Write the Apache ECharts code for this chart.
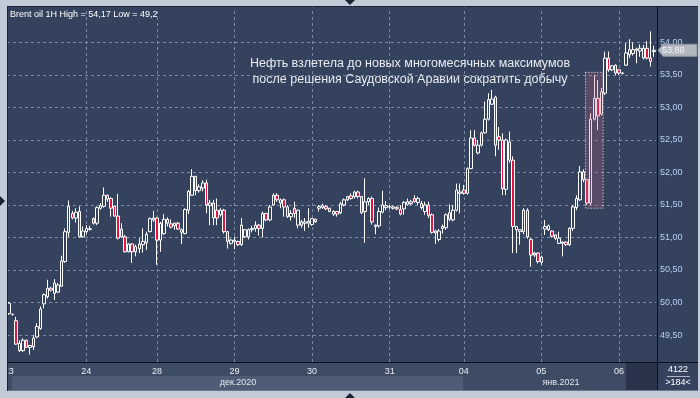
<!DOCTYPE html>
<html><head><meta charset="utf-8">
<script src="https://cdn.jsdelivr.net/npm/echarts@6/dist/echarts.min.js"></script>
<style>html,body{margin:0;padding:0;background:#c1cad7;}#c{width:700px;height:398px;}</style>
</head><body><div id="c"></div>
<script>
// ---- data ----
const dayLabels = ['23','24','28','29','30','31','04','05','06'];
const dayCandles = [22,20,22,22,22,21,22,22,11];
const monthLabels = ['дек.2020','янв.2021'];
const yTicks = [49.5,50,50.5,51,51.5,52,52.5,53,53.5,54];
const lastPrice = 53.88;
const titleText = 'Brent oil 1H High = 54,17 Low = 49,2';
const noteLines = ['Нефть взлетела до новых многомесячных максимумов','после решения Саудовской Аравии сократить добычу'];
const barsTotal = '4122';
const barsShown = '>184<';
const highlightFrom = 164, highlightTo = 168, highlightLow = 51.45, highlightHigh = 53.54;

const opens = [
49.83,49.82,49.72,49.26,49.26,49.42,49.31,49.32,49.47,49.60,
49.98,50.09,50.22,50.14,50.16,50.25,50.63,51.08,51.37,51.30,
51.40,51.01,51.09,51.125,51.29,51.22,51.45,51.48,51.65,51.60,
51.48,51.33,51.13,51.01,50.78,50.90,50.78,50.83,50.89,50.92,
51.09,51.27,51.30,50.96,51.06,51.28,51.21,51.18,51.22,51.08,
51.06,51.42,51.65,51.94,51.72,51.76,51.84,51.49,51.53,51.42,
51.35,51.42,51.09,50.91,50.94,50.94,50.89,51.01,51.01,51.12,
51.14,51.19,51.14,51.37,51.27,51.50,51.65,51.53,51.58,51.47,
51.32,51.45,51.19,51.19,51.22,51.22,51.20,51.28,51.45,51.46,
51.475,51.45,51.36,51.40,51.38,51.50,51.58,51.64,51.63,51.70,
51.63,51.40,51.55,51.60,51.17,51.18,51.39,51.46,51.47,51.45,
51.465,51.43,51.44,51.51,51.52,51.60,51.54,51.52,51.40,51.50,
51.35,51.07,50.97,51.14,51.15,51.38,51.27,51.42,51.68,51.73,
51.68,52.06,52.53,52.30,52.42,52.61,52.82,53.05,53.16,52.55,
52.50,51.74,52.47,52.19,51.12,51.09,51.09,51.42,50.97,50.73,
50.76,50.62,51.13,51.12,51.10,51.04,50.91,50.91,50.93,50.89,
51.14,51.46,51.58,52.01,51.89,51.53,52.82,53.14,52.90,53.22,
53.76,53.58,53.65,53.58,53.53,53.65,53.81,53.83,53.88,53.87,
53.76,53.91,53.76,53.86];
const highs = [
50.01,49.83,49.78,49.42,49.45,49.43,49.34,49.50,49.68,49.94,
50.14,50.35,50.24,50.36,50.30,50.72,51.14,51.57,51.41,51.45,
51.48,51.17,51.19,51.18,51.31,51.48,51.53,51.77,51.66,51.62,
51.49,51.67,51.22,51.04,50.91,50.91,50.89,50.99,51.14,51.09,
51.31,51.41,51.31,51.24,51.36,51.31,51.28,51.23,51.24,51.14,
51.45,51.73,52.05,51.95,51.82,51.88,51.89,51.58,51.58,51.60,
51.45,51.44,51.10,50.98,51.01,50.95,51.30,51.13,51.14,51.18,
51.25,51.21,51.40,51.38,51.50,51.68,51.68,51.60,51.60,51.50,
51.42,51.55,51.43,51.27,51.30,51.45,51.30,51.29,51.50,51.52,
51.50,51.46,51.42,51.41,51.55,51.60,51.64,51.68,51.72,51.72,
51.64,51.91,51.62,51.63,51.20,51.46,51.72,51.56,51.50,51.49,
51.48,51.50,51.56,51.60,51.58,51.65,51.63,51.56,51.55,51.55,
51.37,51.12,51.13,51.20,51.37,51.51,51.50,51.83,51.83,51.81,
52.08,52.65,52.65,52.50,52.63,53.09,53.22,53.27,53.18,52.70,
52.60,52.52,52.63,52.25,51.17,51.12,51.45,51.45,50.99,50.78,
50.77,50.72,51.27,51.20,51.11,51.05,51.09,50.94,50.94,51.16,
51.50,51.65,52.10,52.05,51.90,52.91,53.50,53.42,53.30,53.86,
53.86,53.65,53.66,53.58,53.54,53.99,54.05,54.00,53.92,53.97,
53.96,54.02,54.17,53.95];
const lows = [
49.81,49.80,49.35,49.24,49.24,49.30,49.20,49.27,49.45,49.58,
49.91,50.06,50.17,50.04,50.15,50.24,50.61,51.01,51.28,51.23,
51.00,51.00,51.06,51.105,51.20,51.19,51.43,51.46,51.55,51.32,
51.32,50.97,51.00,50.77,50.77,50.61,50.71,50.76,50.77,50.81,
51.08,51.24,50.58,50.78,51.04,51.17,51.14,51.12,51.12,50.90,
51.05,51.36,51.64,51.65,51.69,51.71,51.37,51.19,51.19,51.19,
51.32,51.06,50.83,50.89,50.82,50.87,50.87,50.99,50.97,51.08,
51.09,51.03,51.00,51.25,51.25,51.49,51.55,51.45,51.32,51.30,
51.26,51.30,51.14,51.15,51.10,51.15,51.18,51.23,51.40,51.44,
51.42,51.39,51.33,51.32,51.36,51.48,51.56,51.58,51.60,51.60,
51.36,50.92,51.50,51.20,51.05,51.15,51.37,51.42,51.44,51.43,
51.42,51.34,51.35,51.49,51.50,51.54,51.50,51.43,51.35,51.30,
51.06,50.90,50.94,51.06,51.12,51.25,51.25,51.40,51.37,51.66,
51.66,52.05,52.40,52.28,52.40,52.60,52.80,53.04,52.25,52.35,
51.65,51.65,52.15,50.76,50.76,50.89,51.05,50.98,50.55,50.70,
50.60,50.58,51.04,51.10,51.00,50.96,50.90,50.71,50.87,50.87,
51.10,51.42,51.56,51.85,51.50,51.50,52.80,52.65,52.88,53.19,
53.55,53.56,53.50,53.50,53.51,53.64,53.76,53.80,53.68,53.78,
53.74,53.74,53.63,53.78];
const closes = [
49.99,49.815,49.36,49.37,49.42,49.31,49.34,49.45,49.63,49.90,
50.12,50.22,50.19,50.30,50.27,50.64,51.09,51.48,51.30,51.39,
51.01,51.10,51.14,51.135,51.22,51.46,51.49,51.65,51.59,51.45,
51.33,50.99,51.01,50.78,50.90,50.78,50.86,50.90,50.94,51.05,
51.29,51.30,50.96,51.22,51.28,51.22,51.16,51.22,51.13,51.12,
51.43,51.71,51.94,51.72,51.78,51.84,51.50,51.53,51.30,51.30,
51.42,51.09,50.94,50.96,50.96,50.89,51.19,51.12,51.12,51.14,
51.19,51.14,51.37,51.27,51.47,51.65,51.58,51.58,51.47,51.32,
51.37,51.37,51.42,51.24,51.24,51.25,51.29,51.24,51.475,51.49,
51.44,51.40,51.40,51.36,51.52,51.58,51.63,51.60,51.70,51.63,
51.38,51.55,51.60,51.24,51.19,51.40,51.50,51.49,51.475,51.47,
51.44,51.36,51.54,51.55,51.55,51.55,51.60,51.46,51.50,51.34,
51.08,51.10,51.10,51.17,51.35,51.28,51.42,51.73,51.70,51.68,
52.06,52.53,52.42,52.42,52.61,52.82,53.12,53.13,52.42,52.50,
51.75,52.50,52.19,51.17,51.17,51.12,51.42,51.01,50.73,50.76,
50.63,50.70,51.17,51.18,51.02,50.99,50.99,50.93,50.89,51.14,
51.47,51.60,52.01,51.89,51.53,52.82,53.14,52.87,53.24,53.76,
53.58,53.64,53.53,53.53,53.525,53.84,53.89,53.89,53.90,53.91,
53.91,53.76,53.71,53.88];

// ---- build ----
const categories = [];
const dayStarts = [];
dayLabels.forEach((d, k) => {
  dayStarts.push(categories.length);
  for (let h = 0; h < dayCandles[k]; h++) categories.push(d + ' ' + h);
});
const dayStartSet = new Set(dayStarts);
const candleData = opens.map((o, i) => [o, closes[i], lows[i], highs[i]]);
const nBars = categories.length;

const FONT = "'Liberation Sans', Arial, sans-serif";
const PLOT = '#35425e';
const GRIDC = '#7a8aa6';
const fmt = v => v.toFixed(2).replace('.', ',');

const chart = echarts.init(document.getElementById('c'), null, {renderer: 'canvas'});

const gridLines = yTicks.map(v => ({yAxis: v}))
  .concat(dayStarts.slice(1).map(i => ({xAxis: categories[i]})));

chart.setOption({
  animation: false,
  backgroundColor: '#c1cad7',
  grid: {left: 7, top: 7.5, width: 649, height: 354.5, containLabel: false, outerBoundsMode: 'none'},
  xAxis: [{
    type: 'category', data: categories, boundaryGap: true,
    axisLine: {show: false}, axisTick: {show: false}, splitLine: {show: false},
    axisLabel: {
      interval: (idx) => dayStartSet.has(idx),
      formatter: (v) => v.split(' ')[0],
      color: '#e9edf3', fontSize: 9, fontFamily: FONT, margin: 5
    }
  }, {
    type: 'value', min: -0.5, max: nBars - 0.5, show: false
  }],
  yAxis: {
    type: 'value', position: 'right', min: 49.085, max: 54.538, scale: true,
    axisLine: {show: false}, axisTick: {show: false}, splitLine: {show: false},
    axisLabel: {
      customValues: yTicks,
      formatter: fmt, color: '#b7d0f3', fontSize: 9, fontFamily: FONT, margin: 4
    }
  },
  series: [
    {
      type: 'line', z: 1, data: categories.map(() => null), showSymbol: false, silent: true,
      markLine: {
        silent: true, symbol: ['none', 'none'], z: 1, animation: false,
        label: {show: false},
        lineStyle: {color: GRIDC, type: [3, 3], width: 1},
        data: gridLines
      }
    },
    {
      type: 'candlestick', z: 3, data: candleData, barWidth: 3, silent: true,
      clip: true,
      itemStyle: {
        color: PLOT, color0: '#e3143f',
        borderColor: '#ffffff', borderColor0: '#ffffff', borderWidth: 1
      }
    },
    {
      type: 'line', xAxisIndex: 1, z: 6, data: [], showSymbol: false, silent: true,
      markArea: {
        silent: true, z: 6,
        itemStyle: {color: 'rgba(190,100,128,0.27)', borderColor: '#f2f2f2', borderWidth: 1, borderType: [1, 2]},
        data: [[{xAxis: highlightFrom - 0.5, yAxis: highlightHigh}, {xAxis: highlightTo + 0.5, yAxis: highlightLow}]]
      }
    }
  ]
});

const py = chart.convertToPixel({yAxisIndex: 0}, lastPrice);
const T = (x, y, text, extra) => Object.assign({type: 'text', x, y, z: 120,
  style: Object.assign({text, fill: '#ffffff', font: '9px ' + FONT, textVerticalAlign: 'middle', textAlign: 'left'}, extra || {})});

chart.setOption({
  graphic: {elements: [
    {type: 'rect', shape: {x: 8, y: 7, width: 690, height: 355}, style: {fill: PLOT}, z: -10},
    {type: 'rect', shape: {x: 8, y: 362, width: 649, height: 14}, style: {fill: '#3d4b64'}, z: -10},
    {type: 'rect', shape: {x: 8, y: 376, width: 455, height: 14}, style: {fill: '#4e5c75'}, z: -10},
    {type: 'rect', shape: {x: 8, y: 376, width: 4, height: 14}, style: {fill: '#3d4b64'}, z: -9},
    {type: 'rect', shape: {x: 463, y: 376, width: 163, height: 14}, style: {fill: '#3d4b64'}, z: -10},
    {type: 'rect', shape: {x: 626, y: 363, width: 31, height: 27}, style: {fill: '#29344b'}, z: -9},
    {type: 'rect', shape: {x: 657, y: 362, width: 41, height: 28}, style: {fill: PLOT}, z: -10},
    {type: 'line', shape: {x1: 8, y1: 362.5, x2: 698, y2: 362.5}, style: {stroke: '#0c1018', lineWidth: 1}, z: 100},
    {type: 'line', shape: {x1: 657.5, y1: 7, x2: 657.5, y2: 390}, style: {stroke: '#0c1018', lineWidth: 1}, z: 100},
    {type: 'line', shape: {x1: 8, y1: 390.5, x2: 698, y2: 390.5}, style: {stroke: '#6d7890', lineWidth: 1}, z: 100},
    {type: 'rect', shape: {x: 0, y: 0, width: 8, height: 398}, style: {fill: '#c1cad7'}, z: 110},
    {type: 'line', shape: {x1: 7.5, y1: 7, x2: 7.5, y2: 391}, style: {stroke: '#1b2233', lineWidth: 1}, z: 111},
    {type: 'line', shape: {x1: 7, y1: 6.5, x2: 698, y2: 6.5}, style: {stroke: '#1b2233', lineWidth: 1}, z: 111},
    {type: 'polygon', shape: {points: [[345, 0], [355, 0], [350, 5]]}, style: {fill: '#1b2233'}, z: 112},
    {type: 'polygon', shape: {points: [[0, 196], [0, 206], [5, 201]]}, style: {fill: '#1b2233'}, z: 112},
    {type: 'polygon', shape: {points: [[345, 398], [355, 398], [350, 393]]}, style: {fill: '#1b2233'}, z: 112},
    T(10, 15, titleText),
    T(410, 64, noteLines[0], {font: '12.5px ' + FONT, textAlign: 'center', fill: '#e9ebf1'}),
    T(410, 80, noteLines[1], {font: '12.5px ' + FONT, textAlign: 'center', fill: '#e9ebf1'}),
    T(238, 383, monthLabels[0], {textAlign: 'center', fill: '#e3e7ee'}),
    T(561, 383, monthLabels[1], {textAlign: 'center', fill: '#e3e7ee'}),
    T(678, 370, barsTotal, {textAlign: 'center'}),
    T(678, 383, barsShown, {textAlign: 'center'}),
    {type: 'line', shape: {x1: 667, y1: 376.5, x2: 690, y2: 376.5}, style: {stroke: '#aab4c6', lineWidth: 1}, z: 120},
    {type: 'polygon', shape: {points: [[658, py], [663, py - 6], [697, py - 6], [697, py + 6], [663, py + 6]]},
      style: {fill: '#b3b8c1', stroke: '#8d939e', lineWidth: 1}, z: 115},
    T(662, py, fmt(lastPrice), {fill: '#eef4ff'})
  ]}
});
</script></body></html>
